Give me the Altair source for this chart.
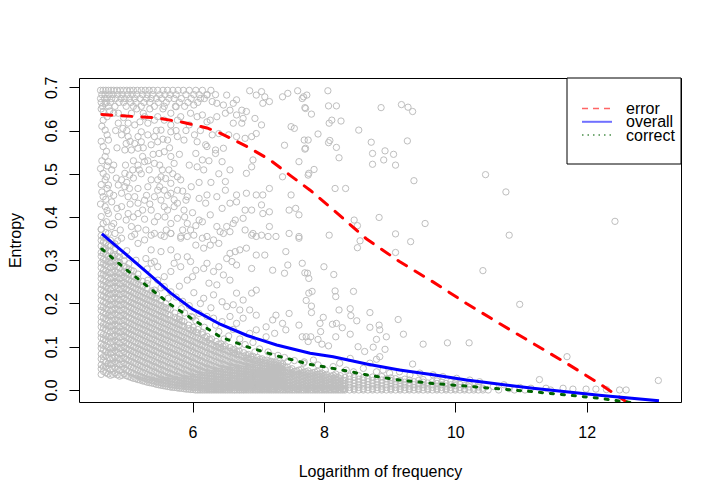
import altair as alt
import pandas as pd

FONT = "Liberation Sans"

# ---------------- smoothed curves ----------------
error_x = [4.62, 4.92, 5.42, 5.82, 6.22, 6.42, 6.83, 7.18, 7.48, 7.79, 8.14, 8.65, 9.15, 9.66,
           10.17, 10.67, 11.18, 11.69, 12.19, 12.60, 12.75]
error_y = [0.637, 0.634, 0.630, 0.620, 0.606, 0.594, 0.563, 0.532, 0.497, 0.462, 0.417, 0.349,
           0.297, 0.250, 0.200, 0.154, 0.108, 0.062, 0.015, -0.027, -0.040]

overall_x = [4.62, 4.97, 5.32, 5.67, 6.00, 6.42, 6.83, 7.28, 7.79, 8.14, 8.65, 9.15, 9.66,
             10.17, 11.18, 12.19, 13.10]
overall_y = [0.361, 0.316, 0.270, 0.224, 0.187, 0.152, 0.126, 0.104, 0.085, 0.077, 0.060,
             0.046, 0.035, 0.023, 0.004, -0.012, -0.025]

correct_x = [4.62, 4.97, 5.32, 5.67, 6.02, 6.42, 6.83, 7.28, 7.79, 8.14, 8.65, 9.15, 9.66,
             10.17, 11.18, 12.19, 12.75]
correct_y = [0.326, 0.281, 0.239, 0.197, 0.162, 0.123, 0.100, 0.079, 0.059, 0.050, 0.035,
             0.023, 0.015, 0.009, -0.004, -0.019, -0.031]

# ---------------- scatter: top band (rows sharing an entropy value) ----------------
top_rows_y = [.693, .683, .674, .665, .656]
top_rows_x = [
    [4.60, 4.64, 4.68, 4.72, 4.76, 4.80, 4.85, 4.90, 4.95, 5.00, 5.05, 5.10, 5.16, 5.22, 5.28,
     5.34, 5.40, 5.47, 5.55, 5.62, 5.70, 5.78, 5.86, 5.95, 6.05, 6.15, 6.28],
    [4.62, 4.67, 4.73, 4.79, 4.86, 4.93, 5.01, 5.08, 5.15, 5.24, 5.31, 5.39, 5.50, 5.58, 5.66,
     5.75, 5.90, 6.02, 6.10, 6.22, 6.35],
    [4.60, 4.66, 4.70, 4.77, 4.83, 4.91, 4.97, 5.04, 5.12, 5.20, 5.30, 5.37, 5.45, 5.53, 5.64,
     5.72, 5.83, 5.98, 6.18],
    [4.61, 4.69, 4.75, 4.88, 4.95, 5.06, 5.14, 5.26, 5.35, 5.48, 5.60, 5.80, 5.93, 6.08],
    [4.63, 4.72, 4.82, 4.99, 5.10, 5.22, 5.42, 5.57, 5.74, 5.88],
]

# ---------------- scatter: dense lower-left mass (columns) ----------------
dense_x = [4.61, 4.68, 4.75, 4.82, 4.89, 4.96, 5.03, 5.10, 5.17, 5.24, 5.31, 5.38, 5.45, 5.52,
           5.59, 5.66, 5.73, 5.80, 5.87, 5.94, 6.01, 6.08, 6.15, 6.22, 6.29, 6.36, 6.43, 6.50,
           6.57, 6.64, 6.71, 6.78, 6.85, 6.92, 6.99, 7.06, 7.13, 7.20, 7.27, 7.34]
dense_y = [
    [.036,.049,.058,.072,.083,.097,.106,.121,.131,.146,.157,.169,.184,.193,.208,.219,.233,.244,.258,.268,.283,.294,.309,.318,.333,.346,.357,.371],
    [.040,.054,.064,.079,.089,.102,.116,.126,.140,.151,.165,.176,.188,.202,.213,.227,.238,.251,.264,.276,.289,.300,.314,.327,.340,.352,.364],
    [.034,.046,.060,.070,.085,.095,.110,.120,.134,.146,.158,.171,.182,.196,.207,.221,.232,.246,.257,.270,.283,.295,.306,.321,.333,.346],
    [.039,.052,.065,.076,.091,.101,.115,.127,.139,.152,.163,.176,.189,.201,.214,.225,.239,.250,.263,.275,.288,.300,.313,.326,.338],
    [.032,.045,.058,.071,.083,.096,.108,.121,.133,.145,.158,.170,.183,.195,.207,.220,.232,.245,.257,.269,.282,.295,.307,.319],
    [.037,.050,.062,.075,.088,.100,.113,.125,.137,.150,.162,.175,.187,.199,.212,.224,.237,.249,.262,.274,.286,.299,.311],
    [.031,.043,.056,.068,.081,.093,.106,.118,.131,.143,.155,.168,.180,.193,.205,.218,.230,.243,.255,.267,.280,.292],
    [.027,.038,.051,.063,.076,.088,.100,.113,.125,.138,.150,.162,.175,.187,.200,.212,.224,.237,.249,.262,.275],
    [.024,.033,.046,.058,.071,.083,.095,.108,.120,.133,.145,.157,.170,.182,.195,.207,.219,.232,.244,.257,.268],
    [.021,.029,.041,.053,.066,.078,.090,.103,.115,.128,.140,.152,.165,.177,.190,.202,.214,.227,.239,.251],
    [.018,.025,.036,.049,.061,.073,.086,.098,.110,.123,.135,.148,.160,.172,.185,.197,.209,.222,.234,.246],
    [.016,.022,.032,.044,.056,.069,.081,.093,.106,.118,.130,.143,.155,.167,.180,.192,.205,.217,.229],
    [.013,.020,.028,.040,.052,.064,.076,.089,.101,.113,.126,.138,.150,.163,.175,.187,.200,.212,.222],
    [.011,.017,.025,.035,.047,.059,.071,.084,.096,.108,.121,.133,.145,.158,.170,.182,.195,.207],
    [.009,.015,.022,.031,.043,.055,.067,.079,.091,.104,.116,.128,.141,.153,.165,.178,.190,.200],
    [.007,.013,.020,.027,.038,.050,.062,.074,.087,.099,.111,.124,.136,.148,.161,.173,.186],
    [.006,.011,.018,.024,.034,.046,.058,.070,.082,.094,.107,.119,.131,.144,.156,.168,.178],
    [.004,.010,.016,.022,.030,.041,.053,.065,.077,.090,.102,.114,.127,.139,.151,.163,.170],
    [.003,.009,.014,.020,.027,.037,.048,.060,.073,.085,.097,.110,.122,.134,.147,.158],
    [.002,.008,.013,.019,.025,.033,.044,.056,.068,.080,.093,.105,.117,.130,.142,.150],
    [.001,.006,.012,.018,.024,.030,.040,.051,.063,.075,.088,.100,.112,.125,.137,.145],
    [0,.005,.011,.017,.023,.029,.036,.047,.058,.071,.083,.095,.108,.120,.132,.140],
    [0,.004,.010,.016,.022,.028,.034,.043,.054,.066,.078,.091,.103,.115,.128,.133],
    [0,.004,.009,.015,.021,.027,.033,.040,.050,.061,.074,.086,.098,.111,.124],
    [0,.003,.008,.014,.020,.026,.032,.038,.047,.057,.069,.082,.094,.106,.118],
    [0,.003,.008,.013,.019,.025,.031,.037,.044,.053,.065,.077,.089,.101,.112],
    [0,.002,.007,.012,.018,.024,.030,.036,.042,.050,.061,.073,.085,.097,.107],
    [0,.002,.006,.011,.017,.023,.029,.035,.041,.048,.058,.069,.081,.093,.102],
    [0,.002,.006,.011,.016,.022,.028,.034,.040,.046,.055,.065,.077,.089,.098],
    [0,.001,.005,.010,.015,.021,.027,.033,.039,.045,.052,.062,.073,.085,.094],
    [0,.001,.005,.010,.015,.020,.026,.032,.038,.044,.050,.059,.070,.081,.090],
    [0,.001,.004,.009,.014,.020,.025,.031,.037,.043,.048,.056,.066,.077,.086],
    [0,.004,.009,.014,.019,.025,.030,.036,.042,.047,.054,.063,.073,.082],
    [0,.004,.008,.013,.019,.024,.030,.035,.041,.046,.052,.060,.070,.078],
    [0,.003,.008,.013,.018,.024,.029,.035,.040,.045,.050,.058,.067,.075],
    [0,.003,.008,.012,.018,.023,.029,.034,.039,.044,.049,.056,.064,.072],
    [0,.003,.007,.012,.017,.023,.028,.033,.038,.043,.048,.054,.062,.069],
    [0,.003,.007,.012,.017,.022,.027,.033,.038,.043,.048,.053,.060,.066],
    [0,.006,.011,.016,.022,.027,.032,.037,.042,.047,.052,.058,.064],
    [0,.006,.011,.016,.021,.026,.031,.036,.041,.046,.051,.056,.062],
]

# second, interleaved set of columns in the same dense mass
dense2_x = [4.645, 4.715, 4.785, 4.855, 4.925, 4.995, 5.065, 5.135, 5.205, 5.275, 5.345, 5.415,
            5.485, 5.555, 5.625, 5.695, 5.765, 5.835, 5.905, 5.975, 6.045, 6.115, 6.185, 6.255,
            6.325, 6.395, 6.465, 6.535, 6.605, 6.675, 6.745, 6.815, 6.885, 6.955, 7.025, 7.095,
            7.165, 7.235, 7.305]
dense2_y = [
    [.043,.053,.068,.077,.093,.103,.118,.128,.143,.152,.167,.178,.192,.203,.217,.228,.242,.252,.267,.277,.292,.302,.316,.327,.342,.353],
    [.037,.050,.061,.075,.086,.099,.112,.123,.137,.148,.161,.173,.186,.197,.211,.222,.235,.247,.260,.272,.285,.297,.309,.322,.334],
    [.036,.049,.062,.073,.088,.098,.112,.124,.137,.149,.160,.174,.185,.198,.211,.223,.236,.248,.260,.272,.286,.297,.310],
    [.035,.048,.061,.074,.087,.099,.111,.124,.136,.148,.161,.173,.186,.198,.210,.223,.235,.248,.260,.272,.285,.297,.309],
    [.034,.047,.060,.073,.085,.098,.110,.123,.135,.148,.160,.172,.185,.197,.210,.222,.234,.247,.259,.271],
    [.033,.046,.059,.071,.084,.096,.109,.121,.134,.146,.158,.171,.183,.196,.208,.221,.233,.245,.258,.270,.283],
    [.029,.040,.053,.066,.078,.091,.103,.116,.128,.140,.153,.165,.178,.190,.202,.215,.227,.240,.252,.264,.277],
    [.026,.035,.048,.061,.073,.086,.098,.110,.123,.135,.148,.160,.172,.185,.197,.210,.222,.234,.247],
    [.023,.031,.043,.056,.068,.081,.093,.105,.118,.130,.143,.155,.167,.180,.192,.205,.217,.229,.242],
    [.020,.027,.039,.051,.063,.076,.088,.100,.113,.125,.138,.150,.162,.175,.187,.199,.212,.224],
    [.017,.024,.034,.046,.059,.071,.083,.096,.108,.120,.133,.145,.157,.170,.182,.194,.207,.219],
    [.015,.021,.030,.042,.054,.066,.079,.091,.103,.116,.128,.140,.153,.165,.177,.190,.202,.214],
    [.012,.018,.026,.037,.049,.062,.074,.086,.098,.111,.123,.135,.148,.160,.172,.185,.197],
    [.010,.016,.023,.033,.045,.057,.069,.081,.093,.106,.118,.130,.143,.155,.167,.180,.192],
    [.008,.014,.021,.029,.040,.052,.064,.077,.089,.101,.114,.126,.138,.151,.163,.175,.188],
    [.006,.012,.019,.026,.036,.048,.060,.072,.084,.096,.109,.121,.133,.146,.158],
    [.005,.011,.017,.023,.032,.043,.055,.067,.080,.092,.104,.117,.129,.141,.153,.165],
    [.004,.009,.015,.021,.028,.039,.051,.063,.075,.087,.100,.112,.124,.137,.149,.160],
    [.002,.008,.014,.020,.026,.035,.046,.058,.070,.082,.095,.107,.119,.132],
    [.001,.007,.013,.019,.024,.032,.042,.053,.065,.077,.090,.102,.114,.127,.139],
    [0,.006,.012,.017,.023,.029,.038,.049,.061,.073,.085,.097,.110,.122,.134],
    [0,.005,.010,.016,.022,.028,.035,.045,.056,.068,.080,.093,.105,.117],
    [0,.004,.009,.015,.021,.027,.033,.041,.052,.063,.075,.088,.100,.112,.122],
    [0,.003,.008,.014,.020,.026,.032,.039,.048,.059,.071,.083,.095,.108,.117],
    [0,.003,.008,.013,.019,.025,.031,.037,.045,.055,.067,.079,.091,.103],
    [0,.002,.007,.013,.018,.024,.030,.036,.043,.051,.063,.075,.087,.098,.106],
    [0,.002,.007,.012,.017,.023,.029,.035,.041,.049,.059,.071,.083,.094,.101],
    [0,.006,.011,.017,.022,.028,.034,.040,.047,.056,.067,.079,.090],
    [0,.005,.011,.016,.022,.027,.033,.039,.045,.053,.063,.075,.086,.093],
    [0,.005,.010,.016,.021,.027,.032,.038,.044,.051,.060,.071,.082,.089],
    [0,.005,.010,.015,.020,.026,.032,.037,.043,.049,.057,.068,.078],
    [0,.004,.009,.015,.020,.025,.031,.036,.042,.047,.055,.065,.074,.081],
    [0,.004,.009,.014,.019,.025,.030,.036,.041,.046,.053,.062,.071,.077],
    [0,.004,.009,.014,.019,.024,.030,.035,.040,.045,.051,.059,.068],
    [0,.004,.008,.013,.018,.024,.029,.034,.039,.044,.050,.057,.065,.071],
    [0,.004,.008,.013,.018,.023,.028,.033,.038,.043,.048,.055,.062,.068],
    [0,.003,.008,.013,.017,.023,.028,.033,.038,.042,.047,.053,.060,.065],
    [0,.003,.008,.012,.017,.022,.027,.032,.037,.042,.047,.052,.058,.063],
    [0,.003,.008,.012,.017,.022,.027,.032,.036,.041,.046,.051,.056,.061],
]

# ---------------- scatter: bottom band (columns) ----------------
band_x = [7.41, 7.48, 7.55, 7.62, 7.69, 7.76, 7.83, 7.90, 7.97, 8.04, 8.11, 8.18, 8.25, 8.32,
          8.39, 8.46, 8.53, 8.60, 8.67, 8.74, 8.81, 8.88, 8.95, 9.02, 9.09, 9.16, 9.23, 9.30,
          9.37, 9.44, 9.51, 9.58, 9.65, 9.72, 9.79, 9.86, 9.93, 10.00, 10.07, 10.14, 10.21,
          10.28, 10.35, 10.42]
band_y = [
    [0,.006,.012,.019,.026,.034,.042,.052], [0,.004,.010,.016,.023,.030,.038,.047],
    [0,.006,.012,.019,.026,.034,.043], [0,.003,.009,.015,.022,.029,.037,.046],
    [0,.006,.012,.019,.026,.033,.041], [0,.003,.009,.016,.023,.030,.038,.044],
    [0,.006,.012,.018,.025,.032,.040], [0,.003,.009,.015,.022,.029,.036,.043],
    [0,.006,.012,.018,.025,.032,.039], [0,.003,.009,.015,.022,.029,.036],
    [0,.006,.012,.018,.025,.032], [0,.003,.009,.016,.023,.030,.037],
    [0,.006,.012,.019,.026,.033], [0,.003,.009,.015,.022,.029],
    [0,.006,.012,.018,.025,.032], [0,.003,.009,.015,.022,.030],
    [0,.006,.012,.018,.025,.033], [0,.003,.009,.016,.023,.029],
    [0,.006,.012,.019,.026], [0,.003,.009,.015,.022,.030],
    [0,.006,.012,.018,.025], [0,.003,.009,.016,.023,.031],
    [0,.006,.012,.019,.026], [0,.003,.009,.015,.022,.028],
    [0,.006,.012,.019,.026], [0,.003,.009,.015,.022],
    [0,.006,.012,.018,.025], [0,.003,.009,.016,.023],
    [0,.006,.012,.019], [0,.003,.009,.015,.022],
    [0,.006,.012,.018,.024], [0,.003,.009,.016],
    [0,.006,.012,.019], [0,.003,.009,.015,.021],
    [0,.006,.012,.018], [0,.003,.009,.015],
    [0,.006,.012,.019], [0,.003,.010,.017],
    [0,.006,.013], [0,.003,.010],
    [0,.007,.014], [0,.004],
    [0,.007,.012], [0,.004],
]

# interleaved columns where the band joins the dense mass
band2_x = [7.375, 7.445, 7.515, 7.585, 7.655, 7.725, 7.795, 7.865, 7.935, 8.005, 8.075, 8.145,
           8.215, 8.285]
band2_y = [
    [0,.004,.010,.016,.022,.028,.034,.040,.047,.054,.060],
    [0,.003,.009,.016,.022,.029,.037,.045,.053],
    [0,.005,.011,.018,.025,.032,.040,.049],
    [0,.003,.009,.015,.022,.029,.036,.044],
    [0,.005,.011,.018,.024,.031,.039,.047],
    [0,.003,.009,.015,.021,.028,.035,.042],
    [0,.005,.011,.017,.024,.031,.038],
    [0,.003,.009,.015,.021,.028,.035,.041],
    [0,.005,.011,.017,.023,.030,.037],
    [0,.003,.009,.015,.021,.028,.034],
    [0,.005,.011,.017,.024,.030],
    [0,.003,.009,.015,.021,.027,.034],
    [0,.005,.011,.017,.023,.029],
    [0,.003,.009,.015,.022],
]

# ---------------- scatter: scattered points (x, entropy) ----------------
left_pts = [
    (4.67,.663),(4.64,.644),(4.64,.624),(4.67,.601),(4.72,.578),(4.64,.563),(4.67,.540),(4.72,.528),(4.77,.509),(4.64,.501),
    (4.67,.486),(4.72,.474),(4.74,.455),(4.64,.447),(4.77,.435),(4.67,.424),(4.72,.408),(4.64,.385),(4.77,.378),(4.72,.362),
    (4.87,.617),(4.94,.605),(5.02,.586),(4.99,.570),(5.07,.555),(5.17,.559),(5.24,.540),(5.27,.528),(5.17,.520),(5.09,.509),
    (4.97,.501),(4.92,.486),(5.04,.497),(5.19,.509),(5.34,.509),(5.42,.524),(5.49,.547),(5.57,.551),(5.67,.540),(5.72,.524),
    (5.64,.509),(5.54,.509),(5.52,.493),(5.37,.486),(5.47,.486),(5.59,.489),(5.67,.478),(5.77,.493),(5.82,.486),(5.77,.462),
    (5.67,.455),(5.57,.462),(5.47,.462),(5.32,.470),(5.17,.466),(5.04,.466),(4.97,.470),(4.87,.474),(4.92,.455),(5.02,.447),
    (5.12,.447),(5.17,.432),(5.27,.439),(5.42,.447),(5.52,.439),(5.57,.424),(5.62,.416),(5.72,.424),(5.77,.432),(5.87,.416),
    (5.77,.397),(5.67,.385),(5.47,.401),(5.42,.389),(5.37,.416),(5.24,.416),(5.17,.408),(5.02,.408),(4.92,.424),(4.87,.401),
    (4.99,.393),(5.07,.378),(5.17,.374),(5.29,.370),(5.42,.362),(5.52,.358),(5.67,.362),(5.92,.385),(5.97,.370),(5.82,.355),
    (4.92,.590),(4.97,.555),(5.17,.586),(5.32,.590),(5.42,.586),(5.52,.601),(5.67,.613),(5.77,.624),(5.57,.624),(5.42,.624),
    (5.32,.617),(5.22,.597),(5.12,.613),(5.02,.617),(4.87,.640),(5.07,.640),(5.27,.632),(5.47,.632),(5.67,.640),(5.82,.632),
    (5.95,.613),(5.67,.597),(5.77,.586),(5.87,.578),(5.62,.578),(5.47,.574),(5.37,.567),(5.22,.574),(5.12,.570),
    (4.61,.372),(4.69,.389),(4.61,.401),(4.70,.415),(4.60,.430),(4.68,.441),(4.62,.458),(4.70,.466),(4.61,.475),(4.69,.493),
    (4.60,.512),(4.70,.518),(4.62,.530),(4.69,.552),(4.61,.575),(4.70,.590),(4.62,.610),(4.70,.632),(4.61,.650),(4.74,.645),
    (4.80,.640),(4.83,.600),(4.85,.560),(4.80,.520),(4.84,.490),(4.80,.450),(4.85,.420),(4.80,.385),(4.90,.370),(4.95,.630),
    (5.00,.600),(5.05,.575),(5.10,.530),(5.00,.480),(5.10,.490),(5.05,.430),(5.10,.400),(5.12,.360),(5.20,.620),(5.25,.560),
    (5.22,.500),(5.30,.450),(5.27,.395),(5.35,.430),(5.40,.545),(5.45,.600),(5.50,.520),(5.55,.580),(5.50,.470),(5.58,.400),
    (5.60,.370),(5.65,.560),(5.70,.500),(5.72,.440),(5.75,.600),(5.80,.545),(5.85,.460),(5.88,.400),(5.90,.600),(5.95,.520),
    (5.98,.470),(6.00,.410),(6.03,.590),(6.10,.480),(6.12,.600),(6.25,.530),(6.28,.480),(6.30,.590),(6.40,.500),(6.45,.420),
    (5.15,.650),(5.35,.650),(5.55,.650),(5.75,.655),(5.25,.640),(4.98,.520),(5.32,.530),(5.62,.450),(5.85,.370),(6.05,.380),
]

mid_pts = [
    (6.52,.682),(6.67,.671),(6.62,.663),(6.87,.692),(6.97,.682),(7.05,.690),(7.10,.678),(7.17,.667),(7.07,.663),(7.37,.678),
    (7.45,.686),(7.60,.692),(7.67,.674),(7.72,.651),(6.02,.659),(6.12,.674),(6.22,.682),(6.30,.667),(6.37,.663),(6.47,.659),
    (6.57,.647),(6.67,.636),(6.75,.647),(6.82,.644),(6.77,.628),(6.62,.617),(6.75,.617),(6.95,.628),(7.05,.613),(6.97,.593),
    (6.90,.586),(6.80,.582),(6.67,.586),(6.55,.590),(6.40,.593),(6.27,.624),(6.37,.632),(6.50,.640),(6.15,.636),(6.07,.632),
    (5.97,.640),(6.22,.620),(7.50,.609),(7.55,.605),(7.70,.578),(7.72,.559),(7.40,.566),(7.62,.528),(7.37,.493),(7.50,.451),
    (7.47,.416),(7.57,.420),(7.62,.405),(7.77,.501),(6.07,.574),(6.20,.567),(6.22,.563),(6.35,.555),(6.47,.559),(6.05,.547),
    (6.15,.532),(6.07,.516),(6.17,.509),(6.35,.547),(6.45,.528),(6.57,.509),(6.82,.501),(6.92,.532),(6.90,.516),(7.17,.466),
    (7.07,.451),(6.97,.451),(6.82,.455),(6.50,.482),(6.50,.462),(6.67,.451),(6.67,.435),(6.57,.432),(6.22,.451),(6.10,.443),
    (5.92,.447),(5.90,.439),(6.20,.432),(6.37,.447),(6.80,.416),(6.90,.416),(7.05,.428),(7.07,.408),(7.17,.412),(6.77,.397),
    (6.62,.385),(6.65,.393),(6.27,.405),(6.15,.389),(6.10,.393),(6.37,.378),(6.42,.366),(6.52,.378),(6.80,.370),(6.92,.362),
    (7.05,.358),(7.17,.378),(7.27,.355),(7.47,.362),(7.62,.355),
    (5.37,.358),(5.57,.355),(5.67,.362),(5.82,.351),(5.92,.355),(6.02,.358),(6.15,.351),(6.22,.355),(6.32,.347),(6.47,.362),
    (6.57,.366),(6.90,.358),(6.97,.355),(7.15,.355),(7.62,.351),(6.05,.335),(6.17,.328),(6.27,.335),(6.40,.339),(6.57,.316),
    (6.65,.320),(6.72,.324),(6.82,.328),(6.97,.312),(7.10,.312),(7.42,.320),(7.67,.293),(7.75,.270),(7.77,.224),(7.45,.289),
    (7.40,.270),(7.22,.277),(6.90,.281),(6.67,.289),(6.60,.297),(6.52,.304),(6.40,.285),(6.32,.274),(6.47,.266),(6.22,.293),
    (6.17,.281),(6.05,.277),(5.92,.254),(6.00,.262),(5.82,.285),(5.72,.293),(5.67,.274),(5.57,.262),(5.47,.285),(5.42,.297),
    (5.37,.324),(5.52,.320),(5.67,.324),(5.77,.308),(5.92,.308),(5.97,.297),(6.25,.247),(6.37,.243),(6.57,.254),(6.67,.224),
    (6.77,.208),(6.90,.224),(6.97,.231),(6.87,.185),(6.72,.185),(6.62,.197),(6.52,.193),(6.45,.204),(6.32,.220),(6.17,.212),
    (6.10,.177),(6.22,.170),(6.32,.166),(6.45,.158),(6.57,.170),(6.67,.154),(6.77,.166),(6.97,.173),(7.12,.146),(7.22,.162),
    (7.37,.154),(7.27,.173),(7.47,.177),(7.62,.150),(7.67,.123),(7.42,.139),(7.25,.131),(7.12,.123),(6.97,.139),(6.87,.131),
    (4.82,.362),(4.92,.351),(5.07,.355),(5.17,.339),(5.27,.347),(5.29,.304),(5.37,.293),(5.32,.254),(5.47,.254),(5.57,.239),
    (5.42,.231),(5.67,.227),(5.75,.215),(5.85,.205),(5.95,.195),(6.02,.225),(5.80,.240),(6.05,.160),(6.12,.200),(6.28,.190),
    (6.40,.135),(6.35,.150),(5.88,.178),(5.98,.170),(6.55,.125),(6.62,.140),(6.72,.118),(6.80,.105),(6.92,.110),(7.02,.095),
    (7.15,.088),(7.30,.080),(7.40,.075),(7.55,.068),(7.70,.065),
    (4.86,.345),(5.00,.322),(5.14,.300),(5.31,.280),(5.52,.236),(5.63,.212),(5.83,.188),(6.00,.168),(6.18,.145),(6.48,.118),
    (6.70,.103),(6.95,.088),(7.22,.078),(7.45,.066),
]

right_pts = [
    (8.06,.692),(7.69,.678),(7.74,.682),(8.07,.657),(8.19,.657),(8.87,.653),(9.18,.660),(9.28,.654),(9.35,.644),(7.71,.653),
    (7.81,.638),(8.12,.624),(8.26,.622),(8.08,.617),(8.53,.601),(7.91,.592),(7.76,.578),(8.09,.577),(8.07,.572),(8.19,.561),
    (8.23,.537),(7.71,.557),(8.72,.573),(8.74,.547),(8.93,.553),(9.06,.545),(8.91,.532),(8.74,.522),(9.09,.520),(9.27,.576),
    (7.85,.510),(7.76,.497),(9.37,.484),(10.46,.498),(8.17,.466),(8.33,.466),(10.77,.458),(8.84,.399),(8.46,.393),(8.51,.380),
    (9.54,.385),(12.43,.390),(8.08,.358),(9.09,.361),(10.82,.358),(8.55,.345),(8.51,.329),(9.32,.343),(9.09,.318),(8.00,.285),
    (8.15,.267),(7.71,.271),(7.77,.258),(10.42,.276),(7.82,.228),(8.17,.229),(8.45,.228),(8.18,.216),(7.73,.207),(7.81,.194),
    (7.81,.179),(10.98,.198),(8.40,.188),(8.23,.185),(8.41,.172),(8.50,.160),(8.70,.179),(7.99,.168),(7.94,.154),(8.13,.152),
    (8.19,.154),(8.28,.144),(8.70,.145),(8.84,.150),(8.85,.139),(9.13,.163),(7.73,.123),(7.80,.123),(7.76,.112),(7.91,.117),
    (7.95,.135),(8.18,.123),(8.40,.129),(8.95,.123),(8.80,.117),(8.93,.094),(9.21,.129),(9.51,.106),(9.88,.109),(10.21,.109),
    (7.97,.106),(8.07,.102),(8.52,.100),(8.75,.099),(8.62,.089),(8.85,.077),(8.80,.071),(8.40,.073),(11.70,.077),(9.35,.060),
    (11.28,.024),(13.09,.022),(12.50,0),(12.60,0),(12.14,.002),
    (7.69,.062),(7.84,.069),(7.91,.058),(8.02,.046),(8.14,.054),(8.24,.062),(8.34,.046),(8.45,.042),(8.60,.050),(8.70,.062),
    (8.80,.042),(8.90,.046),(9.00,.039),(9.15,.042),(9.31,.035),(9.46,.039),(9.66,.035),(9.81,.031),(10.02,.027),(10.22,.023),
    (10.37,.019),
    (10.50,0),(10.58,.008),(10.66,0),(10.74,.012),(10.82,.003),(10.90,0),(10.98,.006),(11.06,0),(11.15,.004),(11.38,.004),
    (11.45,0),(11.64,.004),(11.79,.002),(11.99,.002),(12.30,.001),
]

# ---------------- build tables ----------------
rows = []
for yv, xs_ in zip(top_rows_y, top_rows_x):
    rows += [(xv, yv) for xv in xs_]
for cx, cy in ((dense_x, dense_y), (dense2_x, dense2_y), (band_x, band_y), (band2_x, band2_y)):
    for xv, ys_ in zip(cx, cy):
        rows += [(xv, yv) for yv in ys_]
rows += left_pts + mid_pts + right_pts
pts = pd.DataFrame(rows, columns=["x", "y"])

err_df = pd.DataFrame({"x": error_x, "y": error_y})
ovr_df = pd.DataFrame({"x": overall_x, "y": overall_y})
cor_df = pd.DataFrame({"x": correct_x, "y": correct_y})

W, H = 602, 324
xsc = alt.Scale(domain=[4.272, 13.435], nice=False, zero=False)
ysc = alt.Scale(domain=[-0.0278, 0.7215], nice=False, zero=False)

xaxis = alt.Axis(values=[6, 8, 10, 12], title="Logarithm of frequency", grid=False, domain=False,
                 tickSize=10, tickColor="black", tickWidth=1, labelColor="black", labelFontSize=16,
                 labelFont=FONT, labelPadding=12, labelFlush=False, labelOverlap=False,
                 titleFont=FONT, titleFontSize=16, titleFontWeight="normal", titleColor="black",
                 titleX=W / 2, titleY=74, titleAlign="center", titleBaseline="alphabetic")
yaxis = alt.Axis(values=[0, 0.1, 0.2, 0.3, 0.4, 0.5, 0.6, 0.7], format=".1f", title="Entropy",
                 grid=False, domain=False, tickSize=10, tickColor="black", tickWidth=1,
                 labelColor="black", labelFontSize=16, labelFont=FONT, labelAngle=270,
                 labelAlign="center", labelBaseline="alphabetic", labelPadding=13,
                 labelFlush=False, labelOverlap=False,
                 titleFont=FONT, titleFontSize=16, titleFontWeight="normal", titleColor="black",
                 titleAngle=270, titleX=-59, titleY=H / 2, titleAlign="center",
                 titleBaseline="alphabetic")

X = alt.X("x:Q", scale=xsc, axis=xaxis)
Y = alt.Y("y:Q", scale=ysc, axis=yaxis)

scatter = alt.Chart(pts).mark_point(shape="circle", filled=False, size=40, color="#BEBEBE",
                                    strokeWidth=1, opacity=1).encode(x=X, y=Y)

err = alt.Chart(err_df).mark_line(color="#FF0000", strokeWidth=3, strokeDash=[10, 10],
                                  strokeCap="round", clip=True).encode(x=X, y=Y)
ovr = alt.Chart(ovr_df).mark_line(color="#0000FF", strokeWidth=3, clip=True).encode(x=X, y=Y)
cor = alt.Chart(cor_df).mark_line(color="#006400", strokeWidth=3, strokeDash=[3, 8],
                                  strokeCap="round", clip=True).encode(x=X, y=Y)

one = pd.DataFrame({"k": [0]})
leg_box = alt.Chart(one).mark_rect(fill="white", stroke="black", strokeWidth=1).encode(
    x=alt.value(488), x2=alt.value(W), y=alt.value(0), y2=alt.value(86))
leg_err = alt.Chart(one).mark_rule(color="#FF6666", strokeWidth=1.5, strokeDash=[6, 5]).encode(
    x=alt.value(503), x2=alt.value(533), y=alt.value(30.5))
leg_ovr = alt.Chart(one).mark_rule(color="#7070FF", strokeWidth=2).encode(
    x=alt.value(503), x2=alt.value(533), y=alt.value(43.8))
leg_cor = alt.Chart(one).mark_rule(color="#4A8F4A", strokeWidth=1.5, strokeDash=[1.5, 4]).encode(
    x=alt.value(503), x2=alt.value(533), y=alt.value(57))
leg_txt = []
for lab, yy in (("error", 36.0), ("overall", 49.3), ("correct", 62.6)):
    leg_txt.append(alt.Chart(one).mark_text(text=lab, align="left", baseline="alphabetic",
                                            fontSize=16, font=FONT, color="black").encode(
        x=alt.value(547), y=alt.value(yy)))

chart = alt.layer(scatter, err, ovr, cor, leg_box, leg_err, leg_ovr, leg_cor, *leg_txt).properties(
    width=W, height=H,
    padding={"left": 71, "top": 70, "right": 20, "bottom": 80},
    autosize=alt.AutoSizeParams(type="none"),
).configure_view(stroke="black", strokeWidth=1)

chart.save("out.html", embed_options={"renderer": "svg", "actions": False})
